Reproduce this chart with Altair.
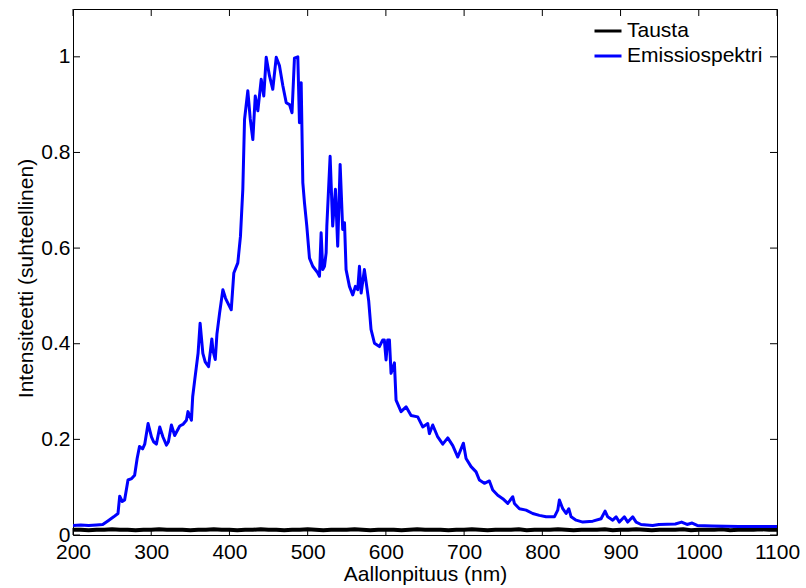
import altair as alt
import pandas as pd

SERIES = ["Tausta", "Emissiospektri"]
COLORS = ["#000000", "#0000ff"]

WL_EMIS = [200, 210, 220, 230, 238, 245, 252, 257.5, 259.7, 263, 266, 270.3, 275, 278.8, 282, 285, 289,
           291.7, 296, 300.3, 303, 306.6, 310.9, 315, 319.5, 322, 325.8, 330, 336.5, 341, 345, 347,
           351.4, 353, 355.6, 359.9, 362.5, 366, 369, 373.3, 377.5, 379, 381.9, 384, 387.4, 391.6,
           395, 398, 402.3, 405.6, 410.7, 414.1, 417.1, 419.3, 423.5, 426.6, 429.9, 433, 436.3,
           440.6, 443.9, 447, 451.2, 455.4, 459.8, 464, 468.2, 472.6, 476.8, 480, 483.1, 487.4,
           489.5, 491.7, 493.8, 495.9, 498.9, 502.3, 506.5, 512.9, 515.1, 517.2, 519.3, 521.5,
           523.6, 524.5, 528.7, 532, 535.5, 538.4, 541.5, 544.8, 547.1, 549.1, 553.4, 557.6, 561,
           564, 566.2, 568.4, 572.5, 575.5, 578, 581, 585.4, 591.7, 596, 598, 600.2, 602.3, 604.5,
           606.6, 610.9, 613, 619.4, 625.8, 632.2, 640.7, 647.1, 653.5, 655.6, 659.9, 666.3, 672.7,
           679.1, 685.5, 691.9, 699.1, 702.5, 708.9, 715.3, 719.5, 725.9, 732.3, 736.6, 743, 749.4,
           755.8, 762.2, 764.3, 770.7, 779.2, 787.7, 796.2, 804.8, 815.4, 819.7, 821.8, 826.1,
           830.4, 833.8, 836.8, 843.2, 851.7, 864.5, 875.1, 880.2, 883.6, 890, 894.3, 898.5, 904.9,
           909.2, 915.6, 919.9, 926.2, 941.1, 949, 970, 978, 985, 991.5, 998, 1017, 1051, 1100]
INT_EMIS = [0.020, 0.021, 0.020, 0.021, 0.022, 0.030, 0.038, 0.045, 0.081, 0.070, 0.073, 0.115, 0.118,
            0.125, 0.160, 0.185, 0.180, 0.190, 0.233, 0.205, 0.195, 0.190, 0.226, 0.205, 0.188, 0.195,
            0.230, 0.208, 0.228, 0.232, 0.240, 0.258, 0.240, 0.289, 0.324, 0.380, 0.443, 0.380, 0.362,
            0.352, 0.410, 0.385, 0.367, 0.420, 0.464, 0.513, 0.495, 0.485, 0.471, 0.548, 0.569, 0.625,
            0.723, 0.869, 0.929, 0.870, 0.827, 0.918, 0.887, 0.953, 0.918, 0.999, 0.960, 0.932, 0.999,
            0.981, 0.940, 0.904, 0.900, 0.883, 0.997, 1.000, 0.862, 0.946, 0.737, 0.695, 0.646, 0.579,
            0.562, 0.548, 0.541, 0.632, 0.555, 0.562, 0.590, 0.646, 0.792, 0.646, 0.723, 0.604, 0.775,
            0.639, 0.653, 0.555, 0.520, 0.502, 0.520, 0.513, 0.562, 0.506, 0.555, 0.520, 0.490, 0.430,
            0.401, 0.394, 0.408, 0.408, 0.366, 0.408, 0.408, 0.338, 0.360, 0.282, 0.258, 0.268, 0.250,
            0.247, 0.226, 0.233, 0.212, 0.230, 0.205, 0.190, 0.203, 0.187, 0.163, 0.192, 0.160, 0.143,
            0.132, 0.115, 0.108, 0.113, 0.094, 0.083, 0.076, 0.066, 0.080, 0.066, 0.055, 0.052, 0.045,
            0.041, 0.038, 0.038, 0.052, 0.073, 0.055, 0.045, 0.055, 0.038, 0.031, 0.027, 0.029, 0.034,
            0.050, 0.038, 0.031, 0.038, 0.027, 0.038, 0.027, 0.038, 0.027, 0.022, 0.020, 0.022, 0.023,
            0.027, 0.022, 0.025, 0.020, 0.019, 0.018, 0.018]

WL_BG = list(range(200, 1101, 10))
INT_BG = [0.011, 0.011, 0.010, 0.011, 0.011, 0.012, 0.011, 0.011, 0.010, 0.011,
          0.011, 0.012, 0.011, 0.011, 0.011, 0.010, 0.011, 0.011, 0.012, 0.011,
          0.011, 0.010, 0.011, 0.011, 0.012, 0.011, 0.011, 0.010, 0.011, 0.011,
          0.012, 0.011, 0.010, 0.011, 0.011, 0.011, 0.012, 0.011, 0.010, 0.011,
          0.011, 0.011, 0.010, 0.011, 0.012, 0.011, 0.011, 0.011, 0.010, 0.011,
          0.011, 0.012, 0.011, 0.010, 0.011, 0.011, 0.011, 0.012, 0.010, 0.011,
          0.011, 0.011, 0.012, 0.011, 0.010, 0.011, 0.011, 0.011, 0.012, 0.010,
          0.011, 0.011, 0.012, 0.011, 0.010, 0.011, 0.011, 0.011, 0.012, 0.010,
          0.011, 0.011, 0.011, 0.012, 0.010, 0.011, 0.011, 0.011, 0.012, 0.011, 0.011]

X_TICKS = [200, 300, 400, 500, 600, 700, 800, 900, 1000, 1100]
Y_TICKS = [0, 0.2, 0.4, 0.6, 0.8, 1]

W, H = 704, 526
FONT = "Liberation Sans"
FS = 21
TL = 7

bg = pd.DataFrame({"nm": WL_BG, "I": INT_BG, "series": SERIES[0]})
em = pd.DataFrame({"nm": WL_EMIS, "I": INT_EMIS, "series": SERIES[1]})
xt = pd.DataFrame({"nm": X_TICKS})
yt = pd.DataFrame({"I": Y_TICKS})

X = alt.X("nm:Q", scale=alt.Scale(domain=[200, 1100], nice=False, zero=False),
          axis=alt.Axis(values=X_TICKS, format="d", title="Aallonpituus (nm)", ticks=False,
                        domain=False, grid=False, labelPadding=6, labelFlush=False,
                        labelOverlap=False, titleY=45, titleBaseline="alphabetic"))
Y = alt.Y("I:Q", scale=alt.Scale(domain=[0, 1.1], nice=False, zero=False),
          axis=alt.Axis(values=Y_TICKS, format="~g", title="Intensiteetti (suhteellinen)",
                        ticks=False, domain=False, grid=False, labelPadding=3,
                        labelFlush=False, labelOverlap=False,
                        titleX=-41, titleY=269, titleBaseline="alphabetic", titleAngle=270))
C = alt.Color("series:N", scale=alt.Scale(domain=SERIES, range=COLORS),
              legend=alt.Legend(title=None, orient="none", legendX=520, legendY=7,
                                symbolType="stroke", symbolSize=729, symbolStrokeWidth=3,
                                labelFontSize=FS, labelFont=FONT, labelOffset=4,
                                padding=0, rowPadding=0, labelColor="black"))

bg_line = alt.Chart(bg).mark_line(strokeWidth=4, clip=True).encode(x=X, y=Y, color=C)
em_line = alt.Chart(em).mark_line(strokeWidth=3, strokeJoin="round", clip=True).encode(x=X, y=Y, color=C)

xb = alt.Chart(xt).mark_rule(color="black", strokeWidth=1).encode(x=X, y=alt.value(H), y2=alt.value(H - TL))
xtop = alt.Chart(xt).mark_rule(color="black", strokeWidth=1).encode(x=X, y=alt.value(0), y2=alt.value(TL))
yl = alt.Chart(yt).mark_rule(color="black", strokeWidth=1).encode(y=Y, x=alt.value(0), x2=alt.value(TL))
yr = alt.Chart(yt).mark_rule(color="black", strokeWidth=1).encode(y=Y, x=alt.value(W), x2=alt.value(W - TL))

chart = alt.layer(bg_line, em_line, xb, xtop, yl, yr).properties(
    width=W, height=H,
    autosize=alt.AutoSizeParams(type="none"),
    padding={"left": 73, "top": 9, "right": 29, "bottom": 53},
    background="white",
).configure_view(stroke="black", strokeWidth=1).configure_axis(
    labelFont=FONT, labelFontSize=FS, labelColor="black",
    titleFont=FONT, titleFontSize=FS, titleColor="black", titleFontWeight="normal",
)

chart.save("out.html", embed_options={"renderer": "svg", "actions": False})
